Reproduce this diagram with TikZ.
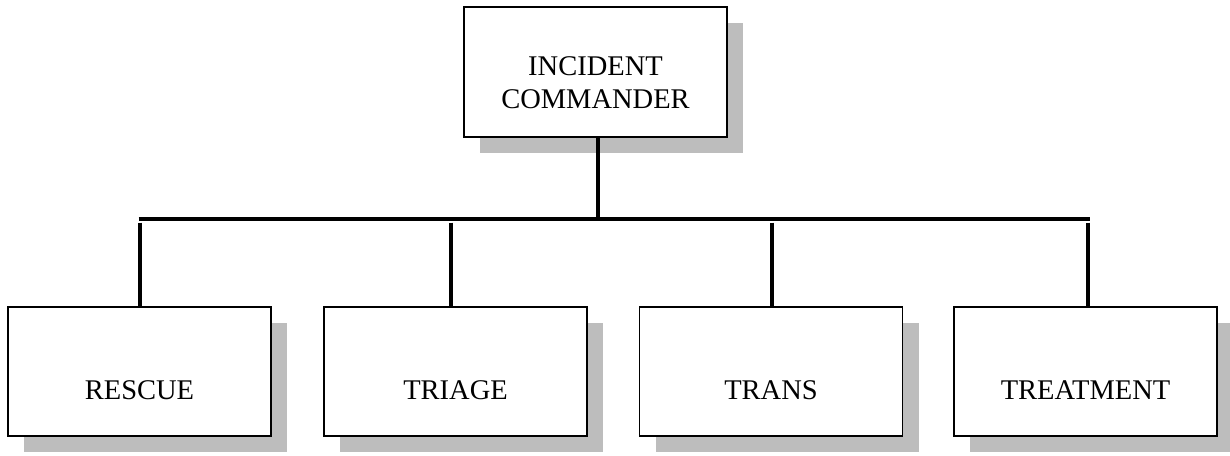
\documentclass[tikz,border=0pt]{standalone}
\usepackage{fontspec}
\setmainfont{Liberation Serif}
\usetikzlibrary{positioning,shadows}

\newcommand{\lowtext}[2]{\raisebox{#1}[0pt][0pt]{#2}}

\tikzset{
  unit/.style={draw, line width=1.5pt, fill=white, inner sep=0pt,
    minimum width=263pt, minimum height=129pt,
    font=\fontsize{28.5}{33}\selectfont,
    drop shadow={shadow xshift=16pt, shadow yshift=-16pt, fill=black!26, opacity=1}},
  link/.style={line width=3.3pt}
}

\begin{document}
\begin{tikzpicture}[x=1pt,y=-1pt]
  \useasboundingbox (0,0) rectangle (1230,455);

  % commander on top
  \node[unit, minimum height=130pt] (ic) at (595.5,72)
    {\lowtext{-36pt}{\begin{tabular}[b]{@{}c@{}}INCIDENT\\COMMANDER\end{tabular}}};

  % the four units below
  \node[unit] (rescue)    at (139.5,371.5) {\lowtext{-27.5pt}{RESCUE}};
  \node[unit] (triage)    at (455.5,371.5) {\lowtext{-27.5pt}{TRIAGE}};
  \node[unit] (trans)     at (771,371.5)   {\lowtext{-27.5pt}{TRANS}};
  \node[unit] (treatment) at (1085.5,371.5) {\lowtext{-27.5pt}{TREATMENT}};

  % bar and drops
  \coordinate (bl) at (138.5,219);
  \coordinate (br) at (1089.5,219);
  \coordinate (top) at (598,219);
  \draw[link] (top |- ic.south) -- (top);
  \draw[link] (bl) -- (br);

  \coordinate (d1) at (140,222.5);
  \coordinate (d2) at (451,222.5);
  \coordinate (d3) at (772,222.5);
  \coordinate (d4) at (1088,222.5);
  \draw[link] (d1) -- (d1 |- rescue.north);
  \draw[link] (d2) -- (d2 |- triage.north);
  \draw[link] (d3) -- (d3 |- trans.north);
  \draw[link] (d4) -- (d4 |- treatment.north);
\end{tikzpicture}
\end{document}
